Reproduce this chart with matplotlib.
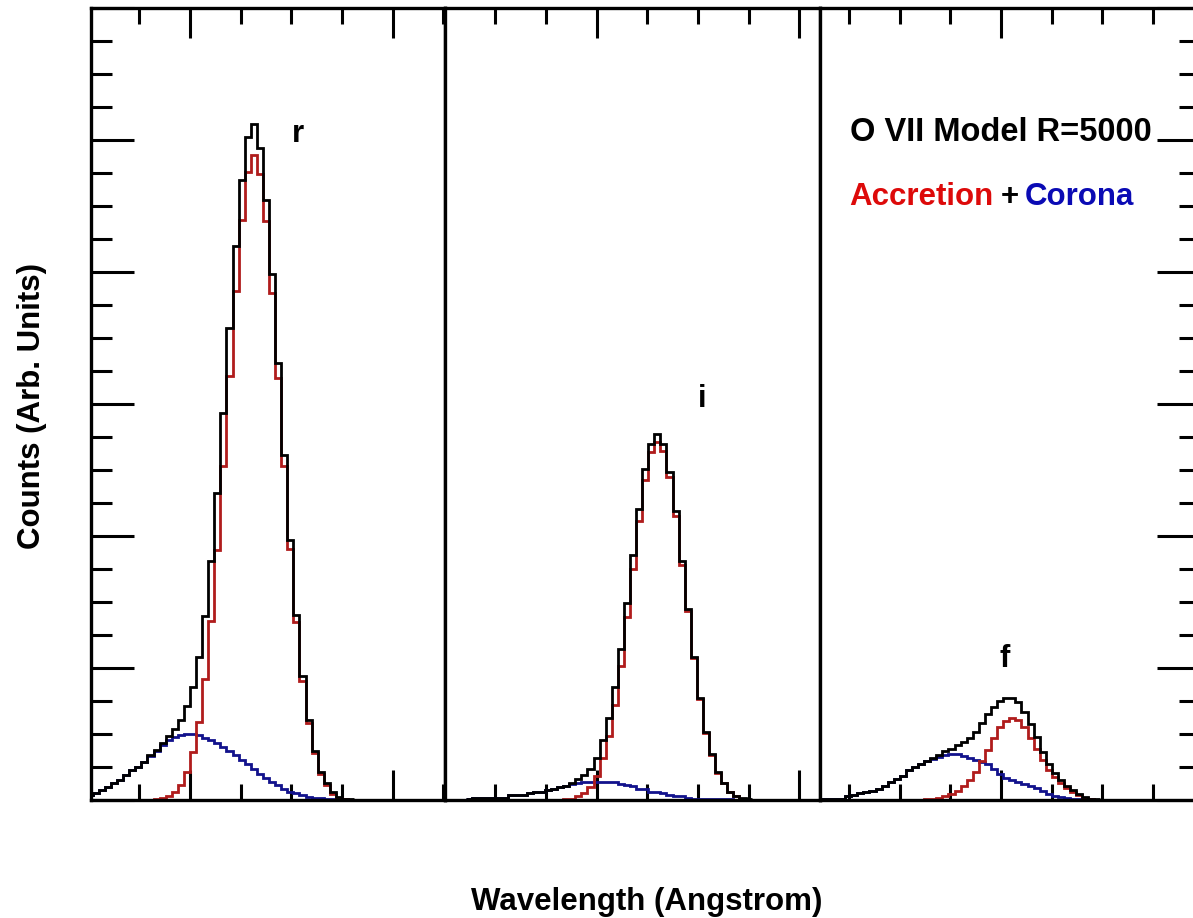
import numpy as np
import matplotlib
matplotlib.use("Agg")
import matplotlib.pyplot as plt
from matplotlib.ticker import MultipleLocator, NullFormatter

plt.rcParams["font.family"] = ["Liberation Sans", "DejaVu Sans"]
plt.rcParams["font.weight"] = "bold"

BIN = 0.006  # Angstrom per spectral bin

# ---- O VII resonance line (r) ----
r_start = 21.498
r_accretion = [0, 0, 0, 0, 0, 0, 0, 0, 0, 0,
               0.003, 0.006, 0.015, 0.03, 0.06, 0.115, 0.21, 0.36, 0.59, 0.92,
               1.355, 1.895, 2.53, 3.21, 3.855, 4.393, 4.757, 4.885, 4.747, 4.385,
               3.845, 3.2, 2.535, 1.905, 1.35, 0.905, 0.582, 0.355, 0.2, 0.115,
               0.048, 0.018, 0.006, 0.002]
r_corona = [0.038, 0.051, 0.076, 0.101, 0.127, 0.152, 0.189, 0.227, 0.252, 0.290,
            0.336, 0.375, 0.42, 0.455, 0.48, 0.495, 0.5, 0.5, 0.49, 0.472,
            0.455, 0.435, 0.40, 0.37, 0.34, 0.305, 0.27, 0.235, 0.195, 0.165,
            0.14, 0.11, 0.08, 0.062, 0.05, 0.038, 0.025, 0.018, 0.014, 0.011,
            0.009, 0.007, 0.005, 0.003]

# ---- O VII intercombination line (i) ----
i_start = 21.6709
i_accretion = [0, 0, 0, 0, 0, 0, 0, 0, 0, 0, 0, 0, 0, 0, 0, 0,
               0.004, 0.01, 0.027, 0.054, 0.096, 0.179, 0.318, 0.487, 0.723, 1.017,
               1.385, 1.751, 2.117, 2.425, 2.637, 2.715, 2.642, 2.447, 2.156, 1.783,
               1.435, 1.078, 0.762, 0.505, 0.339, 0.208, 0.126, 0.059, 0.028, 0.01,
               0.003]
i_corona = [0.01, 0.012, 0.012, 0.013, 0.013, 0.014, 0.018, 0.035, 0.038, 0.04,
            0.055, 0.058, 0.06, 0.078, 0.082, 0.098, 0.104, 0.122, 0.13, 0.135,
            0.137, 0.137, 0.137, 0.136, 0.135, 0.125, 0.11, 0.105, 0.085, 0.08,
            0.062, 0.058, 0.055, 0.04, 0.033, 0.03, 0.012, 0.009, 0.008, 0.008,
            0.007, 0.006, 0.005, 0.004, 0.003, 0.002, 0.001]

# ---- O VII forbidden line (f) ----
f_start = 22.0222
f_accretion = [0, 0, 0, 0, 0, 0, 0, 0, 0, 0, 0, 0, 0, 0, 0, 0, 0,
               0.004, 0.008, 0.015, 0.028, 0.045, 0.07, 0.105, 0.15, 0.215, 0.295,
               0.38, 0.47, 0.55, 0.6, 0.62, 0.605, 0.55, 0.47, 0.385, 0.3,
               0.23, 0.175, 0.13, 0.09, 0.062, 0.037, 0.016, 0.005, 0.002]
f_corona = [0.008, 0.008, 0.008, 0.01, 0.03, 0.038, 0.05, 0.058, 0.068, 0.083,
            0.105, 0.14, 0.16, 0.185, 0.225, 0.25, 0.272, 0.295, 0.31, 0.325,
            0.34, 0.345, 0.345, 0.335, 0.318, 0.303, 0.29, 0.27, 0.235, 0.2,
            0.17, 0.152, 0.139, 0.12, 0.105, 0.09, 0.065, 0.045, 0.032, 0.025,
            0.015, 0.01, 0.008, 0.006, 0.004, 0.002]

panels = [
    dict(start=r_start, acc=r_accretion, cor=r_corona, xlim=(21.5023, 21.8516),
         label="r", label_xy=(21.7066, 4.99)),
    dict(start=i_start, acc=i_accretion, cor=i_corona, xlim=(21.6503, 22.0204),
         label="i", label_xy=(21.9039, 2.98)),
    dict(start=f_start, acc=f_accretion, cor=f_corona, xlim=(22.0214, 22.3964),
         label="f", label_xy=(22.2039, 1.01)),
]

W, H = 1193, 918
fig = plt.figure(figsize=(W / 100, H / 100), dpi=100)
fig.patch.set_facecolor("white")

# panel boundaries in figure pixels
edges_px = [(91, 445), (445, 820), (820, 1200)]
top_px, bot_px = 8.3, 800

RED = "#b01c1c"
BLUE = "#12128c"
LW = 2.0
SPW = 2.4

axes = []
for n, (p, (x0, x1)) in enumerate(zip(panels, edges_px)):
    ax = fig.add_axes([x0 / W, 1 - bot_px / H, (x1 - x0) / W, (bot_px - top_px) / H])
    acc = np.asarray(p["acc"], dtype=float)
    cor = np.asarray(p["cor"], dtype=float)
    total = acc + cor
    bins = p["start"] + BIN * np.arange(len(acc) + 1)
    ax.stairs(cor, bins, color=BLUE, lw=LW, baseline=None, zorder=2)
    ax.stairs(acc, bins, color=RED, lw=LW, baseline=None, zorder=3)
    ax.stairs(total, bins, color="black", lw=LW, baseline=None, zorder=4)

    ax.set_xlim(*p["xlim"])
    ax.set_ylim(0, 6)
    for s in ax.spines.values():
        s.set_linewidth(SPW)
        s.set_zorder(5)

    ax.xaxis.set_major_locator(MultipleLocator(0.2))
    ax.xaxis.set_minor_locator(MultipleLocator(0.05))
    ax.xaxis.set_major_formatter(NullFormatter())
    ax.xaxis.set_minor_formatter(NullFormatter())
    ax.tick_params(axis="x", which="major", direction="in", length=21.5, width=2.2,
                   top=True, bottom=True)
    ax.tick_params(axis="x", which="minor", direction="in", length=11.5, width=2.2,
                   top=True, bottom=True)

    ax.yaxis.set_major_locator(MultipleLocator(1))
    ax.yaxis.set_minor_locator(MultipleLocator(0.25))
    ax.yaxis.set_major_formatter(NullFormatter())
    ax.yaxis.set_minor_formatter(NullFormatter())
    show_left = n == 0
    show_right = n == 2
    ax.tick_params(axis="y", which="major", direction="in", length=31, width=2.2,
                   left=show_left, right=show_right)
    ax.tick_params(axis="y", which="minor", direction="in", length=15, width=2.2,
                   left=show_left, right=show_right)

    lx, ly = p["label_xy"]
    ax.text(lx, ly, p["label"], ha="center", va="baseline", fontsize=22.5,
            fontweight="bold", color="black")
    axes.append(ax)

FS = 22.5
fig.text(850 / W, 1 - 141 / H, "O VII Model R=5000", ha="left", va="baseline",
         fontsize=23.5, fontweight="bold", color="black")
fig.text(849 / W, 1 - 205 / H, "Accretion", ha="left", va="baseline",
         fontsize=FS, fontweight="bold", color="#dd0a0a")
fig.text(1001 / W, 1 - 205 / H, "+", ha="left", va="baseline",
         fontsize=FS, fontweight="bold", color="black")
fig.text(1025 / W, 1 - 205 / H, "Corona", ha="left", va="baseline",
         fontsize=FS, fontweight="bold", color="#0a0ab4")

fig.text(32 / W, 1 - 406 / H, "Counts (Arb. Units)", rotation=90, ha="center",
         va="center", fontsize=FS, fontweight="bold")
fig.text(647 / W, 1 - 902 / H, "Wavelength (Angstrom)", ha="center", va="center",
         fontsize=FS, fontweight="bold")

fig.savefig("out.png", dpi=100, facecolor="white")
